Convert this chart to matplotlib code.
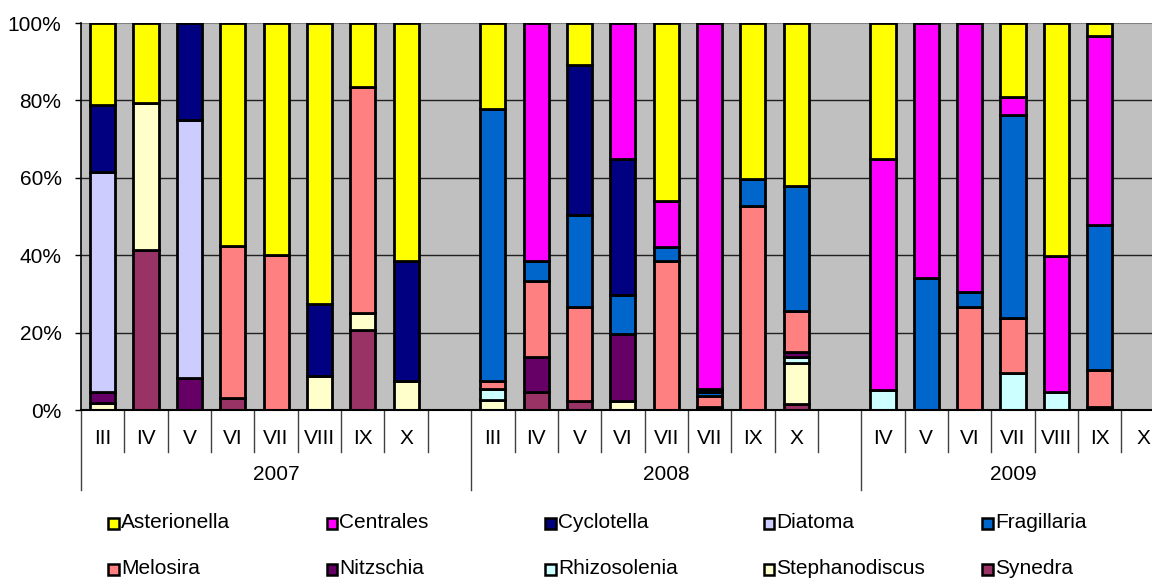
import matplotlib
matplotlib.use("Agg")
import matplotlib.pyplot as plt
import numpy as np
from matplotlib.patches import Rectangle

plt.rcParams['font.family'] = ['Liberation Sans', 'DejaVu Sans']

# month slots per year (empty string = spacer slot)
years = ['2007', '2008', '2009']
months_2007 = ['III', 'IV', 'V', 'VI', 'VII', 'VIII', 'IX', 'X', '']
months_2008 = ['III', 'IV', 'V', 'VI', 'VII', 'VII', 'IX', 'X', '']
months_2009 = ['IV', 'V', 'VI', 'VII', 'VIII', 'IX', 'X']

# percent share per slot, same order as the slots above
synedra        = [0, 41.4, 0, 3.0, 0, 0, 20.7, 0, 0,   0, 4.6, 2.3, 0, 0, 0, 0, 1.6, 0,   0, 0, 0, 0, 0, 0, 0]
stephanodiscus = [1.7, 37.9, 0, 0, 0, 8.9, 4.3, 7.6, 0,   2.6, 0, 0, 2.2, 0, 0, 0, 10.5, 0,   0, 0, 0, 0, 0, 0, 0]
rhizosolenia   = [0, 0, 0, 0, 0, 0, 0, 0, 0,   2.7, 0, 0, 0, 0, 0, 0, 1.5, 0,   5.2, 0, 0, 9.5, 4.7, 0, 0]
nitzschia      = [2.9, 0, 8.2, 0, 0, 0, 0, 0, 0,   0, 9.0, 0, 17.4, 0, 0.9, 0, 1.5, 0,   0, 0, 0, 0, 0, 0.7, 0]
melosira       = [0, 0, 0, 39.5, 40.0, 0, 58.4, 0, 0,   2.2, 19.8, 24.3, 0, 38.4, 2.7, 52.8, 10.6, 0,   0, 0, 26.7, 14.2, 0, 9.6, 0]
fragillaria    = [0, 0, 0, 0, 0, 0, 0, 0, 0,   70.3, 5.0, 23.8, 10.1, 3.8, 1.1, 6.9, 32.1, 0,   0, 34.1, 3.7, 52.6, 0, 37.4, 0]
diatoma        = [56.9, 0, 66.8, 0, 0, 0, 0, 0, 0,   0, 0, 0, 0, 0, 0, 0, 0, 0,   0, 0, 0, 0, 0, 0, 0]
cyclotella     = [17.4, 0, 25.0, 0, 0, 18.4, 0, 30.8, 0,   0, 0, 38.8, 35.2, 0, 0.7, 0, 0, 0,   0, 0, 0, 0, 0, 0, 0]
centrales      = [0, 0, 0, 0, 0, 0, 0, 0, 0,   0, 61.6, 0, 35.1, 11.7, 94.6, 0, 0, 0,   59.7, 65.9, 69.6, 4.7, 35.2, 48.9, 0]
asterionella   = [21.1, 20.7, 0, 57.5, 60.0, 72.7, 16.6, 61.6, 0,   22.2, 0, 10.8, 0, 46.1, 0, 40.3, 42.2, 0,   35.1, 0, 0, 19.0, 60.1, 3.4, 0]

legend_names = ['Asterionella', 'Centrales', 'Cyclotella', 'Diatoma', 'Fragillaria',
                'Melosira', 'Nitzschia', 'Rhizosolenia', 'Stephanodiscus', 'Synedra']
series = {
    'Asterionella': asterionella, 'Centrales': centrales, 'Cyclotella': cyclotella,
    'Diatoma': diatoma, 'Fragillaria': fragillaria, 'Melosira': melosira,
    'Nitzschia': nitzschia, 'Rhizosolenia': rhizosolenia,
    'Stephanodiscus': stephanodiscus, 'Synedra': synedra,
}
colors = {
    'Asterionella': '#FFFF00', 'Centrales': '#FF00FF', 'Cyclotella': '#000080',
    'Diatoma': '#CCCCFF', 'Fragillaria': '#0066CC', 'Melosira': '#FF8080',
    'Nitzschia': '#660066', 'Rhizosolenia': '#CCFFFF',
    'Stephanodiscus': '#FFFFCC', 'Synedra': '#993366',
}

W, H = 1152, 580
FS = 15
fig = plt.figure(figsize=(W / 100, H / 100), dpi=100)
slot_px = 43.35
n_slots = len(months_2007) + len(months_2008) + len(months_2009)
ax = fig.add_axes([81 / W, (H - 410) / H, n_slots * slot_px / W, 387 / H])
ax.set_facecolor('#C0C0C0')

x = np.arange(n_slots) + 0.5
bottom = np.zeros(n_slots)
# stack from the last legend entry upwards
for name in reversed(legend_names):
    vals = np.array(series[name], dtype=float)
    mask = vals > 0
    ax.bar(x[mask], vals[mask], bottom=bottom[mask], width=0.58,
           color=colors[name], edgecolor='black', linewidth=2.0, zorder=3)
    bottom += vals

ax.set_xlim(0, n_slots)
ax.set_ylim(0, 100)
ax.set_yticks(np.arange(0, 101, 20))
ax.set_yticklabels([f'{v}%' for v in range(0, 101, 20)], fontsize=FS)
ax.tick_params(axis='y', length=4, width=1, color='black', pad=10)
for v in range(20, 100, 20):
    ax.axhline(v, color='#202020', linewidth=1, zorder=1)
ax.axhline(100, color='#808080', linewidth=1.5, zorder=1)
ax.set_xticks([])
for side in ['top', 'right']:
    ax.spines[side].set_visible(False)
ax.spines['left'].set_linewidth(1.2)
ax.spines['bottom'].set_linewidth(1.5)
ax.spines['bottom'].set_zorder(4)

# two-level category axis: months, then years
trans = ax.get_xaxis_transform()
all_months = months_2007 + months_2008 + months_2009
month_y = -(438 - 410) / 387
year_y = -(474 - 410) / 387
sep_short = -(452 - 410) / 387
sep_long = -(490 - 410) / 387
for i, m in enumerate(all_months):
    if m:
        ax.text(i + 0.5, month_y, m, transform=trans, ha='center', va='center',
                fontsize=FS)
year_edges = [0, len(months_2007), len(months_2007) + len(months_2008), n_slots]
for i in range(n_slots + 1):
    y_end = sep_long if i in year_edges else sep_short
    ax.plot([i, i], [0, y_end], transform=trans, color='#404040', linewidth=1,
            clip_on=False)
for k, yr in enumerate(years):
    ax.text((year_edges[k] + year_edges[k + 1]) / 2, year_y, yr, transform=trans,
            ha='center', va='center', fontsize=FS)

# legend laid out on a fixed grid
for i, name in enumerate(legend_names):
    col, row = i % 5, i // 5
    lx = 108 + 218.5 * col
    ly = 523 + 46 * row
    fig.patches.append(Rectangle((lx / W, (H - ly - 5.5) / H), 10.5 / W, 11 / H,
                                 transform=fig.transFigure, facecolor=colors[name],
                                 edgecolor='black', linewidth=1.8))
    fig.text((lx + 13) / W, (H - ly) / H, name, ha='left', va='center',
             fontsize=FS)

fig.savefig('out.png', dpi=100)
